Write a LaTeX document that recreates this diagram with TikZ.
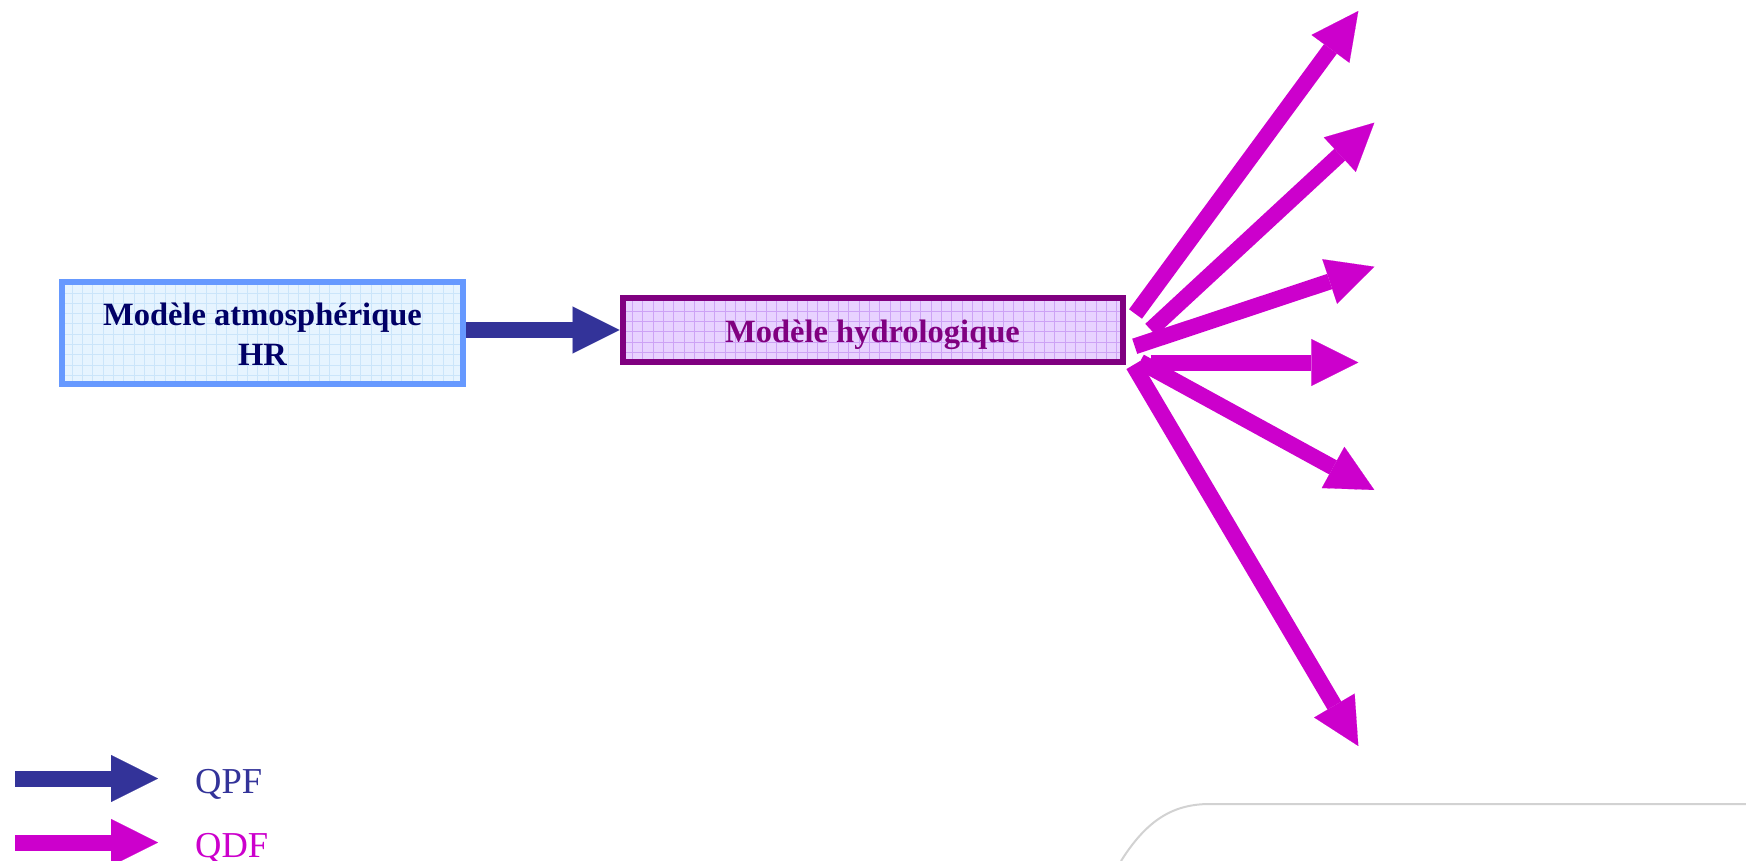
\documentclass[tikz,border=0pt]{standalone}
\usepackage{fontspec}
\setmainfont{Liberation Serif}
\usetikzlibrary{arrows.meta}
\definecolor{magentaQ}{HTML}{CC00CC}
\definecolor{navyQ}{HTML}{333399}
\definecolor{atmBorder}{HTML}{6699FF}
\definecolor{atmFill}{HTML}{E6F4FF}
\definecolor{atmGrid}{HTML}{CBE5FA}
\definecolor{atmText}{HTML}{000066}
\definecolor{hydBorder}{HTML}{800080}
\definecolor{hydFill}{HTML}{E8D2FF}
\definecolor{hydGrid}{HTML}{CDA2F5}
\definecolor{frameGray}{HTML}{D2D2D2}
\tikzset{
  modelbox/.style={rectangle, inner sep=0pt, line width=6pt, align=center},
  atmbox/.style={modelbox, draw=atmBorder, fill=atmFill, text=atmText,
    font=\fontsize{32.5pt}{39.3pt}\selectfont\bfseries,
    minimum width=401pt, minimum height=102pt, text height=63.4pt, text depth=0pt,
    path picture={\draw[atmGrid, line width=0.8pt, step=10.3pt]
      ([shift={(-2pt,-2pt)}]path picture bounding box.south west) grid
      (path picture bounding box.north east);}},
  hydbox/.style={modelbox, draw=hydBorder, fill=hydFill, text=hydBorder,
    font=\fontsize{32.5pt}{37.3pt}\selectfont\bfseries,
    minimum width=500pt, minimum height=63.5pt, text height=24pt, text depth=0pt,
    path picture={\draw[hydGrid, line width=0.8pt, step=10.3pt]
      ([shift={(-2pt,-2pt)}]path picture bounding box.south west) grid
      (path picture bounding box.north east);}},
  fatarrow/.style={line width=16pt,
    -{Triangle[width=47pt,length=47pt,line width=0.1pt]}},
  legendtext/.style={anchor=base west, inner sep=0pt,
    font=\fontsize{36.5pt}{40pt}\selectfont}
}
\begin{document}
\begin{tikzpicture}[x=1pt,y=-1pt]
\useasboundingbox (0,0) rectangle (1746,861);
% boxes
\node[atmbox] (atm) at (262.5,333.3) {Modèle atmosphérique\\HR};
\node[hydbox] (hyd) at (872.5,330) {Modèle hydrologique};
% QPF connector
\draw[navyQ, fatarrow] (atm.east |- hyd.west) -- (hyd.west);
% fan of QDF arrows
\coordinate (t1) at (1135.5,314);   \coordinate (h1) at (1358.3,11);
\coordinate (t2) at (1150.7,329.7); \coordinate (h2) at (1374.3,122.7);
\coordinate (t3) at (1134.7,346.3); \coordinate (h3) at (1374.3,266.7);
\coordinate (t4) at (1150.7,362.5); \coordinate (h4) at (1358.3,362.5);
\coordinate (t5) at (1140,361.7);   \coordinate (h5) at (1374.3,490);
\coordinate (t6) at (1133.3,365);   \coordinate (h6) at (1358.3,746);
\foreach \i in {1,...,6}{
  \draw[magentaQ, fatarrow] (t\i) -- (h\i);
}
% legend
\coordinate (lpA) at (15,778.5); \coordinate (lpB) at (158,778.5);
\coordinate (ldA) at (15,842.5); \coordinate (ldB) at (158,842.5);
\draw[navyQ, fatarrow] (lpA) -- (lpB);
\draw[magentaQ, fatarrow] (ldA) -- (ldB);
\node[legendtext, text=navyQ] (qpf) at (195,793) {QPF};
\node[legendtext, text=magentaQ] (qdf) at (195,857) {QDF};
% partial frame at bottom right
\draw[frameGray, line width=2pt] (1121,861) .. controls (1148,818) and (1175,804) .. (1210,804) -- (1746,804);
\end{tikzpicture}
\end{document}
